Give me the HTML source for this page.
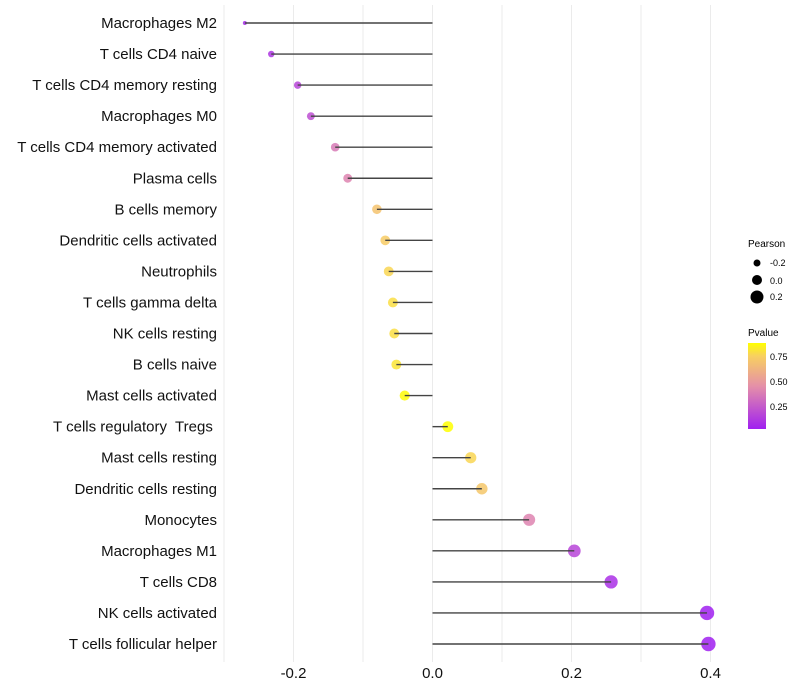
<!DOCTYPE html>
<html><head><meta charset="utf-8"><style>
body{margin:0;background:#fff;font-family:"Liberation Sans",sans-serif;}
svg{display:block}
#labels text{white-space:pre}
</style></head><body>
<svg id="chart" width="800" height="700">
<defs><linearGradient id="pg" x1="0" y1="1" x2="0" y2="0">
<stop offset="0" stop-color="#a020f0"/><stop offset="0.5" stop-color="#e590a8"/><stop offset="0.85" stop-color="#f8d060"/><stop offset="1" stop-color="#ffff00"/></linearGradient></defs>
<g id="grid"></g><g id="marks"></g><g id="labels"></g>
<g font-size="10" fill="#000">
<text x="748" y="247">Pearson</text>
<circle cx="757" cy="263" r="3.5"/><text x="770" y="266" font-size="9">-0.2</text>
<circle cx="757" cy="280" r="5"/><text x="770" y="284" font-size="9">0.0</text>
<circle cx="757" cy="297" r="6.5"/><text x="770" y="300" font-size="9">0.2</text>
<text x="748" y="336">Pvalue</text>
<rect x="748" y="343" width="18" height="86" fill="url(#pg)"/>
<text x="770" y="360" font-size="9">0.75</text><text x="770" y="385" font-size="9">0.50</text><text x="770" y="410" font-size="9">0.25</text>
</g>
</svg>
<script>
const cells=["Macrophages M2","T cells CD4 naive","T cells CD4 memory resting","Macrophages M0","T cells CD4 memory activated","Plasma cells","B cells memory","Dendritic cells activated","Neutrophils","T cells gamma delta","NK cells resting","B cells naive","Mast cells activated","T cells regulatory  Tregs ","Mast cells resting","Dendritic cells resting","Monocytes","Macrophages M1","T cells CD8","NK cells activated","T cells follicular helper"];
const pearson=[-0.270,-0.232,-0.194,-0.175,-0.140,-0.122,-0.080,-0.068,-0.063,-0.057,-0.055,-0.052,-0.040,0.022,0.055,0.071,0.139,0.204,0.257,0.395,0.397];
const pvalue=[0.08,0.12,0.18,0.22,0.38,0.42,0.70,0.74,0.78,0.80,0.80,0.82,0.88,0.89,0.78,0.72,0.42,0.18,0.10,0.04,0.04];
const xTicks=[-0.2,0,0.2,0.4];
const xTickLabels=["-0.2","0.0","0.2","0.4"];
const NS="http://www.w3.org/2000/svg";
const x=v=>432.5+v*695;
const y=i=>23+i*31.05;
function mk(t,a,p){const e=document.createElementNS(NS,t);for(const k in a)e.setAttribute(k,a[k]);p.appendChild(e);return e;}
function lerp(a,b,t){return a.map((v,i)=>Math.round(v+(b[i]-v)*t));}
const stops=[[0,[160,32,240]],[0.5,[229,144,168]],[0.85,[248,208,96]],[1,[255,255,0]]];
function col(p){let t=(p-0.04)/(0.89-0.04);t=Math.max(0,Math.min(1,t));for(let i=1;i<stops.length;i++){if(t<=stops[i][0]){const c=lerp(stops[i-1][1],stops[i][1],(t-stops[i-1][0])/(stops[i][0]-stops[i-1][0]));return`rgb(${c})`;}}return"rgb(255,255,0)";}
const mn=Math.min(...pearson),mx=Math.max(...pearson);
const rad=v=>2+5.2*Math.sqrt((v-mn)/(mx-mn));
const grid=document.getElementById('grid'),marks=document.getElementById('marks'),labels=document.getElementById('labels');
for(let g=-0.3;g<=0.41;g+=0.1){const l=mk('line',{x1:x(g),x2:x(g),y1:5,y2:662,stroke:'#ebebeb','stroke-width':1},grid);

}
xTicks.forEach((t,i)=>{const e=mk('text',{x:x(t),y:678,'text-anchor':'middle','font-size':15,fill:'#111'},labels);e.textContent=xTickLabels[i];

});
cells.forEach((c,i)=>{
const t=mk('text',{x:217,y:y(i)+5,'text-anchor':'end','font-size':15,fill:'#111'},labels);t.textContent=c;


const p=mk('circle',{cx:x(pearson[i]),cy:y(i),r:rad(pearson[i]),fill:col(pvalue[i]),'fill-opacity':0.85},marks);


const s=mk('line',{x1:x(0),x2:x(pearson[i]),y1:y(i),y2:y(i),stroke:'#444','stroke-width':1.4},marks);


});
</script>
</body></html>
